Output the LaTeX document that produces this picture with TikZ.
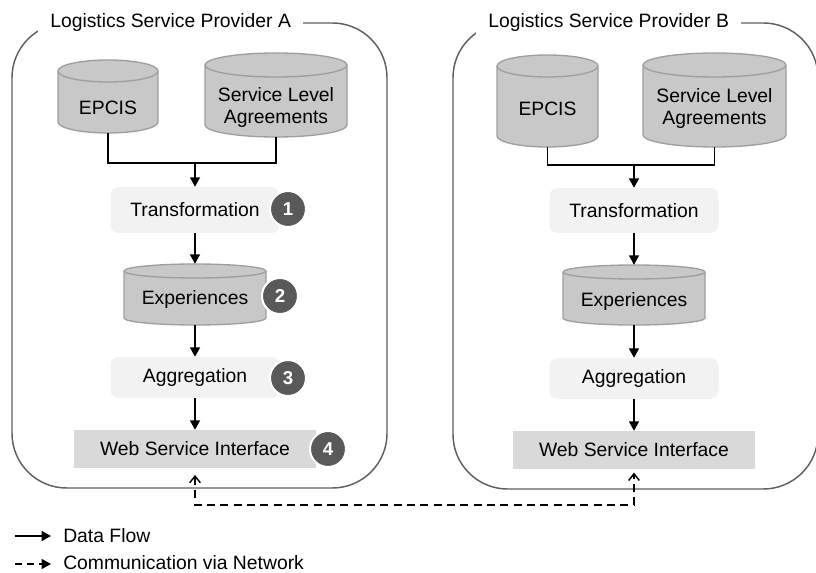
\documentclass[tikz,border=0pt]{standalone}
\usepackage{fontspec}
\setmainfont{Liberation Sans}
\usetikzlibrary{arrows.meta,calc}
\definecolor{cylfill}{HTML}{C8C8C8}
\definecolor{cylline}{HTML}{9E9E9E}
\definecolor{lightfill}{HTML}{F2F2F2}
\definecolor{wsifill}{HTML}{D9D9D9}
\definecolor{badgefill}{HTML}{595959}
\definecolor{framecol}{HTML}{606060}

\newcommand\dbnode[6]{% name x1 y1 x2 y2 ry
  \pgfmathsetmacro\dbcx{(#2+#4)/2}%
  \pgfmathsetmacro\dbcy{(#3+#5)/2}%
  \pgfmathsetmacro\dbrx{(#4-#2)/2}%
  \pgfmathsetmacro\dbyt{#3+#6}%
  \pgfmathsetmacro\dbyb{#5-#6}%
  \filldraw[cylbody] (#2,\dbyt) -- (#2,\dbyb) arc[start angle=180,end angle=0,x radius=\dbrx,y radius=#6] -- (#4,\dbyt) arc[start angle=0,end angle=-180,x radius=\dbrx,y radius=#6] -- cycle;
  \draw[cylbody,fill=none] (#2,\dbyt) arc[start angle=180,end angle=0,x radius=\dbrx,y radius=#6];
  \node[dbbox,minimum width={(#4-#2)*0.75pt},minimum height={(#5-#3)*0.75pt}] (#1) at (\dbcx,\dbcy) {};
}

\tikzset{
  txt/.style={font=\fontsize{14.5}{16.5}\selectfont, text=black},
  cylbody/.style={fill=cylfill, draw=cylline, line width=1pt},
  dbbox/.style={inner sep=0pt, draw=none},
  dblabel/.style={txt, inner sep=0pt, align=center},
  procbox/.style={txt, fill=lightfill, rounded corners=6pt, minimum width=126.75pt, inner sep=0pt},
  wsibox/.style={txt, fill=wsifill, minimum width=181.5pt, minimum height=28.5pt, inner sep=0pt},
  badge/.style={circle, fill=badgefill, draw=white, line width=1.5pt, minimum size=27pt, inner sep=0pt, text=white, font=\fontsize{14}{14}\selectfont\bfseries},
  frame/.style={draw=framecol, line width=1.1pt, rounded corners=41pt},
  ftitle/.style={txt, fill=white, inner xsep=9pt, inner ysep=3pt, anchor=west},
  flow/.style={line width=1.1pt, -{Triangle[length=7pt,width=7.5pt]}},
  flowline/.style={line width=1.1pt},
  net/.style={line width=1.1pt, dash pattern=on 6pt off 4pt},
  legtext/.style={txt, anchor=west, inner sep=0pt},
}

\begin{document}
\begin{tikzpicture}[x=0.75pt,y=-0.75pt]
\useasboundingbox (0,0) rectangle (816,573);

% frames
\draw[frame] (12,23) rectangle (387,488);
\draw[frame] (453,23) rectangle (818,489);
\node[ftitle] (titleA) at (38,23) {Logistics Service Provider A};
\node[ftitle] (titleB) at (476,23) {Logistics Service Provider B};

% cylinders
\dbnode{epA}{58}{60}{158}{133}{11}
\dbnode{slaA}{205}{53}{347}{137}{12}
\dbnode{expA}{124}{264}{266}{325}{7}
\dbnode{epB}{497}{55}{598}{147}{11}
\dbnode{slaB}{643}{53}{786}{147}{12}
\dbnode{expB}{563}{265}{705}{325}{7}

\node[dblabel] (epAt) at (108,108) {EPCIS};
\node[dblabel] (slaAt) at (276,107.5) {Service Level\\Agreements};
\node[dblabel] (expAt) at (195,300) {Experiences};
\node[dblabel] (epBt) at (547.5,109) {EPCIS};
\node[dblabel] (slaBt) at (714.5,108.5) {Service Level\\Agreements};
\node[dblabel] (expBt) at (634,302) {Experiences};

% process boxes
\node[procbox, minimum height=34.5pt] (trA) at (195,210) {Transformation};
\node[procbox, minimum height=30.75pt] (agA) at (195,377.5) {Aggregation};
\node[wsibox] (wsiA) at (195,449) {Web Service Interface};
\node[procbox, minimum height=33.75pt] (trB) at (634,210.5) {Transformation};
\node[procbox, minimum height=30.75pt] (agB) at (634,378.5) {Aggregation};
\node[wsibox] (wsiB) at (634,450) {Web Service Interface};

% badges
\node[badge] (b1) at (288,209) {1};
\node[badge] (b2) at (280,296) {2};
\node[badge] (b3) at (288,378) {3};
\node[badge] (b4) at (328,449) {4};

% data flow A
\coordinate (jA) at (195,163);
\draw[flowline] (epA.south) |- (jA);
\draw[flowline] (slaA.south) |- (jA);
\draw[flow] (jA) -- (trA.north);
\draw[flow] (trA.south) -- (expA.north);
\draw[flow] (expA.south) -- (agA.north);
\draw[flow] (agA.south) -- (wsiA.north);

% data flow B
\coordinate (jB) at (634,165);
\draw[flowline] (epB.south) |- (jB);
\draw[flowline] (slaB.south) |- (jB);
\draw[flow] (jB) -- (trB.north);
\draw[flow] (trB.south) -- (expB.north);
\draw[flow] (expB.south) -- (agB.north);
\draw[flow] (agB.south) -- (wsiB.north);

% network communication
\coordinate (netmid) at (415,505);
\draw[net, {Straight Barb[length=5pt,width=8pt]}-{Straight Barb[length=5pt,width=8pt]}, shorten <=5pt, shorten >=2.5pt] (wsiA.south) |- (netmid) -| (wsiB.south);

% legend
\coordinate (l1s) at (15,536);
\coordinate (l1e) at (51,536);
\coordinate (l2s) at (15,564);
\coordinate (l2e) at (51,564);
\draw[flow] (l1s) -- (l1e);
\draw[line width=1.1pt, dash pattern=on 5.5pt off 3.5pt, -{Triangle[length=7pt,width=7.5pt]}] (l2s) -- (l2e);
\node[legtext] (lg1) at (63,536) {Data Flow};
\node[legtext] (lg2) at (63,563) {Communication via Network};
\end{tikzpicture}
\end{document}
